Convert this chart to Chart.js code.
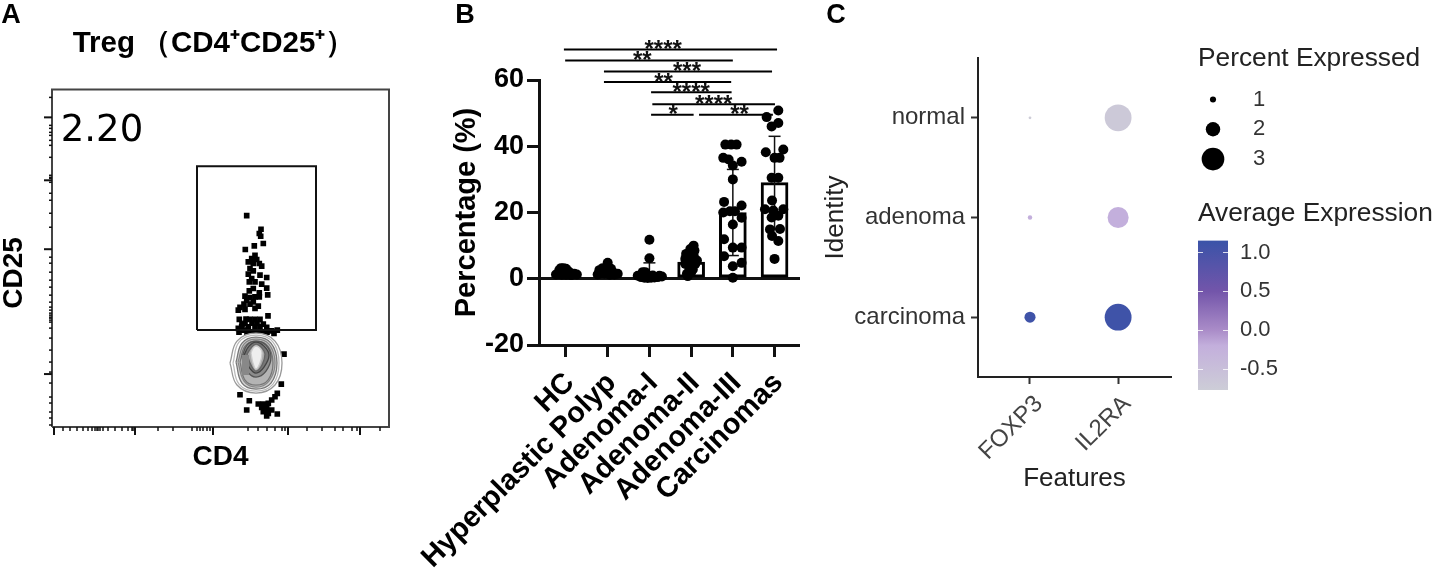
<!DOCTYPE html>
<html>
<head>
<meta charset="utf-8">
<script src="https://cdn.jsdelivr.net/npm/chart.js@4"></script>
<style>
    html, body { margin: 0; padding: 0; background: #fff; }
    body { position: relative; width: 1435px; height: 569px; overflow: hidden; }
    canvas { position: absolute; }
</style>
</head>
<body>
<canvas id="flowChart" width="428" height="480" style="left:0;top:0"></canvas>
<canvas id="barChart" width="400" height="569" style="left:400px;top:0"></canvas>
<canvas id="dotChart" width="360" height="500" style="left:820px;top:0"></canvas>
<canvas id="sizeLegend" width="237" height="140" style="left:1198px;top:40px"></canvas>
<canvas id="colorLegend" width="237" height="200" style="left:1198px;top:198px"></canvas>
<script>
// panel A, flow cytometry channels
const flowEvents = [[194.7,211.7],[209,198],[207.3,193.7],[208.7,191],[211.3,183.7],[202.3,181.3],[193.3,177.7],[203,172],[199.7,168.7],[204.7,167.7],[196.3,165.3],[201.3,163.7],[207.3,163.7],[209.7,161],[198,158.7],[201.3,156.3],[196.3,153],[208,152],[214.7,149.7],[199.7,148.7],[197.3,145.3],[203,145.3],[209.7,143],[201.3,138.7],[214.7,139],[197.3,136.3],[207.3,134.3],[215.7,132.3],[193,131],[198,129.7],[203,130.3],[207.3,130.3],[194.7,127],[201.3,125.3],[192,123],[198,123],[206.3,121],[188,119.7],[193,117.7],[186.3,117],[203,118.7],[216,111.3],[187.3,107.7],[198,107.7],[203,107.7],[208,107.7],[193,103.7],[211.3,103],[189.7,100.3],[196.3,100.3],[203,100.3],[208,100.3],[214.7,99.7],[186.3,98.7],[219.7,96.3],[225.3,97],[222,93.7],[191.3,97],[232,73],[229.3,43],[188,32.3],[225.3,33.7],[223,30.3],[197.3,26.3],[219.7,27],[206.3,23],[211.3,23],[216.3,23.7],[209.7,19.7],[214.7,18.7],[194.7,17],[219.7,17],[211.3,15.3],[216.3,13.7],[225.3,13],[214.7,11],[187,95],[195,95],[199,95],[203,95],[207,95],[211,95],[215,95],[200,104],[205,104],[194,108],[190,103]];
const flowContours = [
    [[178,64],[185,86],[204,94],[223,86],[230,64],[223,42],[204,34],[185,42]],
    [[181,64],[187,85],[204,92],[221,85],[227,64],[221,43],[204,36],[187,43]],
    [[184,65],[190,84],[204,90],[219,84],[225,64],[219,44],[204,38],[190,44]],
    [[186,65],[192,83],[204,88],[217,83],[223,64],[217,46],[204,40],[192,46]],
    [[188,65],[193,81],[204,86],[216,81],[221,64],[216,47],[204,42],[193,47]],
    [[190,70],[195,82],[204,86],[214,82],[219,70],[214,56],[204,50],[195,56]],
    [[192,72],[197,81],[204,85],[212,81],[217,72],[212,60],[204,54],[197,60]],
    [[195,73],[199,79],[204,83],[210,79],[213,73],[210,62],[204,56],[199,62]],
    [[199,74],[201,79],[204,81],[208,79],[210,74],[208,64],[204,58],[201,64]]
];
const contourColors = ["#999", "#bbb", "#777", "#888", "#777", "#555", "#444", "#666", "#ccc"];
const contourFills = ["#fff", "#fff", "#d2d2d2", "#c4c4c4", "#b4b4b4", "#8c8c8c", "#777", "#aaa", "#eee"];
const grayPatch = [[190,72],[197,72],[197,52],[190,52],[190,72]];
const gateCorners = [[145,97],[264,97],[264,261],[145,261],[145,97]];
const flowFrame = [[0,0],[337,0],[337,338],[0,338],[0,0]];
const cd25Major = [310, 247, 178, 53];
const cd25Minor = [330,302,299,295,292,287,282,270,252,250,249,245,234,227,214,200,170,164,155,147,140,132,125,120,117,114,112,110,109,107,105,99,89,77,65,55,44,30,24,15,9,2];
const cd4Major = [2, 83, 161, 236, 308];
const cd4Minor = [11,18,25,31,36,40,43,45,46,48,51,56,63,70,76,80,81,106,121,140,145,148,151,155,158,196,206,215,223,230,233,255,270,283,291,300,305,328];

// panel B
const groups = ["HC", "Hyperplastic Polyp", "Adenoma-I", "Adenoma-II", "Adenoma-III", "Carcinomas"];
const groupMeans = [1.5, 2, 1, 5, 20, 29];
const errLow = [1, 1, 0, 2.5, 7, 15];
const errHigh = [2.5, 3, 4.8, 7, 33, 43];
const groupPoints = [
    [[-.24,1.3],[-.16,2.6],[-.12,3.2],[-.06,3.2],[0,3],[.04,2.4],[.1,1.8],[.2,1.5],[.26,1.3],[-.1,1.2],[0,1.2],[.12,1.1],[-.18,1.5],[.05,1.5],[-.03,1.9]],
    [[0,4.8],[-.12,3.2],[-.2,2.6],[.08,3],[-.24,1.3],[.24,1.5],[.16,1.3],[-.08,1.5],[0,2],[.05,1.2],[.12,2],[-.16,1.6],[-.04,3.3]],
    [[0,11.8],[0,6.2],[-.16,2],[-.28,.9],[-.2,.5],[-.12,.3],[-.04,.2],[.04,.3],[.12,.4],[.2,.5],[.3,.7],[.24,.9],[-.08,1],[.08,1],[0,.8],[-.1,2]],
    [[.06,10],[-.02,9],[.08,8.5],[-.12,7.5],[-.04,7.2],[.06,7],[-.14,6],[.14,5.5],[0,6],[.08,5],[-.06,5],[-.14,4.5],[.02,4],[.1,4.5],[-.04,3],[.04,2.8],[-.1,1.5],[0,2],[-.08,.8]],
    [[-.18,40.5],[-.04,40.5],[.09,40.5],[-.23,36.5],[-.1,36],[.21,35.3],[0,34.2],[0,30],[-.21,23.2],[.21,22.1],[-.23,20],[-.07,20.4],[.05,20.4],[.21,18.4],[0,16.4],[-.21,11.9],[.21,9.4],[0,9.4],[-.21,6.8],[0,3.8],[.21,4.8],[0,.3]],
    [[.09,50.8],[-.19,48.8],[.09,47],[-.07,46],[.21,39],[-.21,38.2],[0,36.5],[.12,36.5],[-.07,30.5],[.09,30.5],[-.06,23.6],[-.23,21],[-.03,20.6],[.21,21],[.09,19],[-.07,18.5],[.13,15],[-.11,14.9],[-.06,12.9],[.09,11.4],[0,6]]
];
const sigFrom = [-.05, -.02, .91, .91, 2.04, 2.07, 2.04, 3.19];
const sigTo = [5.06, 4, 4.94, 3.96, 3.97, 5.01, 3.06, 4.96];
const sigLevel = [69.2, 65.9, 62.6, 59.4, 56.3, 52.7, 49.5, 49.5];
const sigStars = ["****", "**", "***", "**", "****", "****", "*", "**"];
const sigStarX = [2.33, 1.83, 2.9, 2.34, 3, 3.54, 2.57, 4.16];

// panel C
const features = ["FOXP3", "IL2RA"];
const identities = ["carcinoma", "adenoma", "normal"];
const dotFeature = [0, 0, 0, 1, 1, 1];
const dotIdentity = [2, 1, 0, 2, 1, 0];
const dotPercent = [.6, .8, 1.6, 3.5, 2.8, 3.5];
const dotAverage = [-.75, -.2, 1.1, -.7, -.2, 1.1];
const percentLegend = [1, 2, 3];
const averageTicks = [-.5, 0, .5, 1];
const averageRange = [-.77, 1.155];
const colorStops = [[-.77,205,205,215], [-.2,195,175,220], [0,170,140,200], [.5,115,85,170], [1.155,58,83,168]];

Chart.defaults.font.family = "'Liberation Sans', Arial, sans-serif";
Chart.defaults.color = "#000";
Chart.defaults.animation = false;
Chart.defaults.layout.autoPadding = false;

function dotRadius(p) { return 4.15 * p - 1.1; }

function averageColor(v) {
    for (let i = 1; i < colorStops.length; i++) {
        const a = colorStops[i - 1], b = colorStops[i];
        if (v <= b[0]) {
            const t = Math.max(0, (v - a[0]) / (b[0] - a[0]));
            return "rgb(" + [1, 2, 3].map(k => Math.round(a[k] + (b[k] - a[k]) * t)).join(",") + ")";
        }
    }
    return "rgb(58,83,168)";
}

// fixed box for an axis, labels may overhang
function fixBox(w, h) {
    return s => {
        if (w !== null) s.width = w;
        if (h !== null) s.height = h;
        s.paddingLeft = s.paddingRight = s.paddingTop = s.paddingBottom = 0;
    };
}

// free text the axes cannot place
function notes(list) {
    return {
        id: "notes",
        afterDraw(chart) {
            const ctx = chart.ctx;
            list.forEach(n => {
                ctx.save();
                ctx.translate(n.x, n.y);
                if (n.rotate) ctx.rotate(n.rotate);
                ctx.font = n.font;
                ctx.fillStyle = n.color || "#000";
                ctx.textAlign = "center";
                ctx.textBaseline = "middle";
                ctx.fillText(n.text, 0, 0);
                ctx.restore();
            });
        }
    };
}

// the two lengths of flow ticks
const flowTicks = {
    id: "flowTicks",
    afterDraw(chart) {
        const ctx = chart.ctx, x = chart.scales.x, y = chart.scales.y, a = chart.chartArea;
        ctx.save();
        ctx.strokeStyle = "#111";
        const mark = (x0, y0, x1, y1, w) => {
            ctx.lineWidth = w;
            ctx.beginPath();
            ctx.moveTo(x0, y0);
            ctx.lineTo(x1, y1);
            ctx.stroke();
        };
        cd25Major.forEach(v => mark(a.left, y.getPixelForValue(v), a.left - 8, y.getPixelForValue(v), 2));
        cd25Minor.forEach(v => mark(a.left, y.getPixelForValue(v), a.left - 3, y.getPixelForValue(v), 1.5));
        cd4Major.forEach(v => mark(x.getPixelForValue(v), a.bottom, x.getPixelForValue(v), a.bottom + 8, 2));
        cd4Minor.forEach(v => mark(x.getPixelForValue(v), a.bottom, x.getPixelForValue(v), a.bottom + 4, 1.5));
        ctx.restore();
    }
};

const toXY = p => ({ x: p[0], y: p[1] });

new Chart(document.getElementById("flowChart"), {
    type: "scatter",
    data: {
        datasets: [
            { data: flowEvents.map(toXY), pointStyle: "rect", pointRadius: 4, pointBackgroundColor: "#000", pointBorderWidth: 0, order: 20 },
            { data: grayPatch.map(toXY), showLine: true, borderWidth: 0, pointRadius: 0, backgroundColor: "#888", fill: "shape", order: 5 },
            ...flowContours.map((ring, i) => ({
                data: ring.concat([ring[0]]).map(toXY), showLine: true, tension: .4, borderColor: contourColors[i],
                borderWidth: 1.3, pointRadius: 0, backgroundColor: contourFills[i], fill: "shape", order: 14 - i
            })),
            { data: gateCorners.map(toXY), showLine: true, borderColor: "#111", borderWidth: 2, pointRadius: 0, order: 2 },
            { data: flowFrame.map(toXY), showLine: true, borderColor: "#444", borderWidth: 2, pointRadius: 0, clip: false, order: 1 }
        ]
    },
    options: {
        responsive: false,
        plugins: {
            legend: { display: false }, tooltip: { enabled: false },
            title: { display: true, text: "Treg\u2009（CD4⁺CD25⁺）", font: { size: 29.5, weight: "bold" }, color: "#000", padding: { top: 26, bottom: 28 } }
        },
        layout: { padding: { left: 39, right: 39 } },
        scales: {
            x: {
                min: 0, max: 337, grid: { display: false }, border: { display: false }, ticks: { display: false },
                title: { display: true, text: "CD4", font: { size: 28, weight: "bold" }, padding: { top: 0, bottom: 6 } },
                afterFit: fixBox(null, 53)
            },
            y: {
                min: 0, max: 338, grid: { display: false }, border: { display: false }, ticks: { display: false },
                afterFit: fixBox(13, null)
            }
        }
    },
    plugins: [flowTicks, notes([
        { text: "A", x: 11, y: 16, font: "bold 27px 'Liberation Sans'" },
        { text: "2.20", x: 102, y: 131, font: "37px 'DejaVu Sans'" },
        { text: "CD25", x: 14, y: 273, rotate: -Math.PI / 2, font: "bold 28px 'Liberation Sans'" }
    ])]
});

const groupAll = groupPoints.flatMap((pts, i) => pts.map(p => ({ x: i + p[0], y: p[1] })));
const errorPoints = groups.flatMap((g, i) => [{ x: i, y: errLow[i] }, { x: i, y: errHigh[i] }, { x: i, y: null }]);

new Chart(document.getElementById("barChart"), {
    type: "bar",
    data: {
        datasets: [
            { type: "scatter", data: groupAll, pointRadius: 5, pointBackgroundColor: "#000", pointBorderWidth: 0, order: 1 },
            {
                type: "scatter", data: errorPoints, showLine: true, borderColor: "#111", borderWidth: 1.5, spanGaps: false,
                pointStyle: "line", pointRadius: 6, pointBorderColor: "#111", pointBorderWidth: 1.5, order: 2
            },
            { type: "bar", data: groupMeans.map((m, i) => ({ x: i, y: m })), barThickness: 27, backgroundColor: "#fff", borderColor: "#000", borderWidth: 3, borderSkipped: false, order: 3 },
            ...sigFrom.map((from, i) => ({
                type: "scatter", data: [{ x: from, y: sigLevel[i] }, { x: sigTo[i], y: sigLevel[i] }], showLine: true,
                borderColor: "#000", borderWidth: 2, pointRadius: 0, clip: false, order: 0
            }))
        ]
    },
    options: {
        responsive: false,
        plugins: { legend: { display: false }, tooltip: { enabled: false } },
        layout: { padding: { top: 80 } },
        scales: {
            x: {
                type: "linear", min: -.647, max: 5.61, offset: false,
                afterBuildTicks: s => { s.ticks = groups.map((g, i) => ({ value: i })); },
                ticks: {
                    callback: v => groups[v], minRotation: 45, maxRotation: 45, autoSkip: false, padding: 9, labelOffset: 4,
                    font: { size: 29, weight: "bold" }, color: "#000"
                },
                grid: { display: true, offset: false, drawOnChartArea: false, tickLength: 12, tickWidth: 3, tickColor: "#111" },
                border: { color: "#111", width: 3 },
                afterFit: fixBox(null, 224)
            },
            y: {
                min: -20, max: 60,
                afterBuildTicks: s => { s.ticks = [-20, 0, 20, 40, 60].map(v => ({ value: v })); },
                ticks: { font: { size: 27, weight: "bold" }, color: "#000", padding: 3 },
                grid: { color: c => c.tick && c.tick.value === 0 ? "#111" : "transparent", lineWidth: 3, tickLength: 12, tickWidth: 3, tickColor: "#111" },
                border: { color: "#111", width: 3 },
                title: { display: true, text: "Percentage (%)", font: { size: 29, weight: "bold" }, color: "#000", padding: { top: 50, bottom: 0 } },
                afterFit: fixBox(139, null)
            }
        }
    },
    plugins: [{
        id: "sigStars",
        afterDraw(chart) {
            const ctx = chart.ctx, x = chart.scales.x, y = chart.scales.y;
            ctx.save();
            ctx.font = "bold 24px 'Liberation Sans'";
            ctx.fillStyle = "#111";
            ctx.textAlign = "center";
            ctx.textBaseline = "middle";
            sigStars.forEach((s, i) => ctx.fillText(s, x.getPixelForValue(sigStarX[i]), y.getPixelForValue(sigLevel[i]) + 1));
            ctx.restore();
        }
    }, notes([{ text: "B", x: 65, y: 16, font: "bold 27px 'Liberation Sans'" }])]
});

new Chart(document.getElementById("dotChart"), {
    type: "bubble",
    data: {
        datasets: [{
            data: dotFeature.map((f, i) => ({ x: f, y: dotIdentity[i], r: dotRadius(dotPercent[i]) })),
            backgroundColor: dotAverage.map(averageColor), borderWidth: 0
        }]
    },
    options: {
        responsive: false,
        plugins: { legend: { display: false }, tooltip: { enabled: false } },
        layout: { padding: { top: 58, right: 9 } },
        scales: {
            x: {
                type: "linear", min: -.59, max: 1.6,
                afterBuildTicks: s => { s.ticks = features.map((f, i) => ({ value: i })); },
                ticks: { callback: v => features[v], minRotation: 45, maxRotation: 45, labelOffset: 9, font: { size: 24 }, color: "#444", padding: 6 },
                grid: { drawOnChartArea: false, tickLength: 7, tickWidth: 2, tickColor: "#333" },
                border: { color: "#222", width: 2 },
                title: { display: true, text: "Features", font: { size: 26 }, color: "#222", padding: { top: 0, bottom: 6 } },
                afterFit: fixBox(null, 123)
            },
            y: {
                min: -.6, max: 2.6,
                afterBuildTicks: s => { s.ticks = identities.map((n, i) => ({ value: i })); },
                ticks: { callback: v => identities[v], font: { size: 24 }, color: "#333", padding: 6 },
                grid: { drawOnChartArea: false, tickLength: 7, tickWidth: 2, tickColor: "#333" },
                border: { color: "#222", width: 2 },
                title: { display: true, text: "Identity", font: { size: 26 }, color: "#222", padding: { top: 0, bottom: 0 } },
                afterFit: fixBox(158, null)
            }
        }
    },
    plugins: [notes([{ text: "C", x: 16, y: 16, font: "bold 27px 'Liberation Sans'" }])]
});

new Chart(document.getElementById("sizeLegend"), {
    type: "bubble",
    data: { datasets: [{ data: percentLegend.map(p => ({ x: 0, y: p, r: dotRadius(p) })), backgroundColor: "#000", borderWidth: 0 }] },
    options: {
        responsive: false,
        plugins: {
            legend: { display: false }, tooltip: { enabled: false },
            title: { display: true, text: "Percent Expressed", align: "start", font: { size: 26.3, weight: "normal" }, color: "#222", padding: { top: 3, bottom: 10 } }
        },
        layout: { padding: { bottom: 6 } },
        scales: {
            x: { display: false, min: -1, max: 1, afterFit: fixBox(null, 0) },
            y: {
                position: "right", reverse: true, min: .5, max: 3.5,
                afterBuildTicks: s => { s.ticks = percentLegend.map(p => ({ value: p })); },
                grid: { display: false }, border: { display: false },
                ticks: { font: { size: 22 }, color: "#333", padding: 17 },
                afterFit: fixBox(207, null)
            }
        }
    }
});

new Chart(document.getElementById("colorLegend"), {
    type: "bar",
    data: {
        labels: [""],
        datasets: [{
            data: [averageRange],
            barPercentage: 1, categoryPercentage: 1, borderWidth: 0,
            backgroundColor: c => {
                const a = c.chart.chartArea;
                if (!a) return "#aaa";
                const g = c.chart.ctx.createLinearGradient(0, a.bottom, 0, a.top);
                colorStops.forEach(s => g.addColorStop((s[0] - averageRange[0]) / (averageRange[1] - averageRange[0]), averageColor(s[0])));
                return g;
            }
        }]
    },
    options: {
        responsive: false,
        plugins: {
            legend: { display: false }, tooltip: { enabled: false },
            title: { display: true, text: "Average Expression", align: "start", font: { size: 26.3, weight: "normal" }, color: "#222", padding: { top: 0, bottom: 11 } }
        },
        layout: { padding: { bottom: 8 } },
        scales: {
            x: { display: false, afterFit: fixBox(null, 0) },
            y: {
                position: "right", min: averageRange[0], max: averageRange[1],
                afterBuildTicks: s => { s.ticks = averageTicks.map(v => ({ value: v })); },
                ticks: { callback: v => v.toFixed(1), font: { size: 22 }, color: "#333", padding: 12 },
                grid: { color: "rgba(255,255,255,.8)", lineWidth: 1, drawTicks: false, z: 1 },
                border: { display: false, dash: [5, 20, 5] },
                afterFit: fixBox(207, null)
            }
        }
    }
});
</script>
</body>
</html>
